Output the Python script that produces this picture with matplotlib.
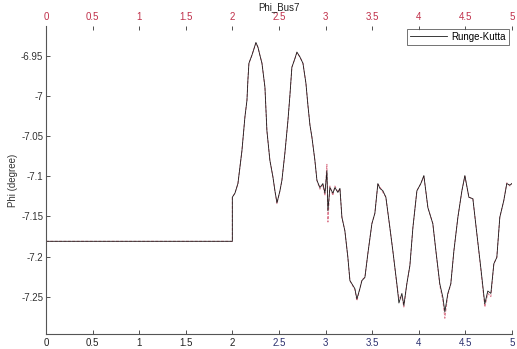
import matplotlib
matplotlib.use("Agg")
import matplotlib.pyplot as plt

# Phase angle at bus 7 (degrees) versus time (s)
t = [0.0, 2.0, 2.0, 2.028, 2.06, 2.103, 2.135, 2.157, 2.167, 2.178, 2.21, 2.232,
     2.253, 2.275, 2.296, 2.318, 2.35, 2.371, 2.403, 2.436, 2.457, 2.479, 2.511,
     2.532, 2.564, 2.597, 2.618, 2.639, 2.672, 2.693, 2.725, 2.758, 2.79, 2.811,
     2.833, 2.854, 2.886, 2.908, 2.94, 2.972, 2.994, 3.015, 3.026, 3.047, 3.079,
     3.101, 3.133, 3.155, 3.176, 3.208, 3.24, 3.262, 3.294, 3.315, 3.337, 3.369,
     3.391, 3.423, 3.455, 3.498, 3.53, 3.562, 3.584, 3.616, 3.648, 3.691, 3.723,
     3.766, 3.788, 3.82, 3.841, 3.873, 3.906, 3.938, 3.981, 4.023, 4.056, 4.099,
     4.152, 4.185, 4.227, 4.26, 4.281, 4.313, 4.345, 4.378, 4.421, 4.464, 4.496,
     4.539, 4.582, 4.624, 4.667, 4.71, 4.742, 4.775, 4.807, 4.839, 4.871, 4.914,
     4.946, 4.979, 5.0]

phi_rk = [-7.181, -7.181, -7.126, -7.121, -7.109, -7.068, -7.026, -7.005, -6.98,
          -6.959, -6.949, -6.941, -6.933, -6.939, -6.949, -6.959, -6.989, -7.043,
          -7.08, -7.101, -7.118, -7.133, -7.118, -7.105, -7.071, -7.03, -6.999,
          -6.964, -6.953, -6.945, -6.951, -6.959, -6.984, -7.011, -7.036, -7.051,
          -7.08, -7.105, -7.114, -7.109, -7.121, -7.093, -7.143, -7.114, -7.121,
          -7.114, -7.12, -7.115, -7.151, -7.168, -7.201, -7.23, -7.236, -7.24,
          -7.253, -7.24, -7.23, -7.226, -7.196, -7.159, -7.146, -7.109, -7.115,
          -7.118, -7.126, -7.164, -7.193, -7.234, -7.258, -7.246, -7.261, -7.234,
          -7.211, -7.164, -7.118, -7.109, -7.099, -7.139, -7.159, -7.193, -7.234,
          -7.251, -7.269, -7.246, -7.234, -7.193, -7.151, -7.118, -7.099, -7.126,
          -7.128, -7.171, -7.214, -7.259, -7.243, -7.246, -7.209, -7.201, -7.151,
          -7.13, -7.109, -7.111, -7.109]

phi_ref = [-7.181, -7.181, -7.126, -7.121, -7.109, -7.068, -7.026, -7.005, -6.98,
           -6.959, -6.949, -6.941, -6.934, -6.939, -6.949, -6.959, -6.989, -7.043,
           -7.08, -7.101, -7.118, -7.134, -7.118, -7.105, -7.071, -7.03, -6.999,
           -6.964, -6.953, -6.946, -6.951, -6.959, -6.984, -7.011, -7.036, -7.051,
           -7.08, -7.105, -7.116, -7.111, -7.124, -7.085, -7.157, -7.112, -7.124,
           -7.112, -7.12, -7.115, -7.151, -7.168, -7.201, -7.23, -7.237, -7.241,
           -7.255, -7.24, -7.229, -7.226, -7.196, -7.159, -7.146, -7.11, -7.113,
           -7.12, -7.126, -7.164, -7.193, -7.236, -7.252, -7.25, -7.263, -7.234,
           -7.211, -7.164, -7.118, -7.109, -7.1, -7.139, -7.159, -7.193, -7.236,
           -7.255, -7.277, -7.248, -7.234, -7.193, -7.151, -7.118, -7.1, -7.126,
           -7.128, -7.171, -7.216, -7.263, -7.246, -7.25, -7.209, -7.201, -7.151,
           -7.13, -7.108, -7.112, -7.109]

xticks = [0, 0.5, 1, 1.5, 2, 2.5, 3, 3.5, 4, 4.5, 5]
xticklabels = ["0", "0.5", "1", "1.5", "2", "2.5", "3", "3.5", "4", "4.5", "5"]
yticks = [-7.25, -7.2, -7.15, -7.1, -7.05, -7.0, -6.95]
yticklabels = ["-7.25", "-7.2", "-7.15", "-7.1", "-7.05", "-7", "-6.95"]

plt.rcParams["font.family"] = ["Liberation Sans", "DejaVu Sans"]

fig = plt.figure(figsize=(5.17, 3.49), dpi=100)
ax = fig.add_axes([0.089, 0.043, 0.901, 0.8825])

ax.plot(t, phi_ref, color="#d0506a", lw=0.7, ls=(0, (3, 1.5)), alpha=0.75)
ax.plot(t, phi_rk, color="#1a1a1a", lw=0.6, label="Runge-Kutta")

ax.set_xlim(0, 5)
ax.set_ylim(-7.2966, -6.9125)

ax.set_xticks(xticks)
ax.set_xticklabels(xticklabels)
ax.set_yticks(yticks)
ax.set_yticklabels(yticklabels)
ax.tick_params(axis="both", direction="in", length=3, width=0.6,
               labelsize=7, colors="#333333", pad=2)
ax.tick_params(axis="x", top=True, labeltop=True, pad=3)
for lbl, val in zip(ax.get_xticklabels(), xticks):
    lbl.set_color("#222222" if val <= 2 else "#2a2f6e")
# top labels are drawn in red
for tk in ax.xaxis.get_major_ticks():
    tk.label2.set_color("#c0304a")

for s in ("top", "right"):
    ax.spines[s].set_visible(False)
for s in ("left", "bottom"):
    ax.spines[s].set_color("#555555")
    ax.spines[s].set_linewidth(0.8)

ax.set_title("Phi_Bus7", fontsize=7, y=1.052, pad=0, color="#222222")
ax.set_ylabel("Phi (degree)", fontsize=7, labelpad=2, color="#333333")

leg = ax.legend(loc="upper right", fontsize=7, frameon=True, fancybox=False,
                borderaxespad=0.3, handlelength=3.8, borderpad=0.3,
                handletextpad=0.5)
leg.get_frame().set_edgecolor("#333333")
leg.get_frame().set_linewidth(0.6)

fig.savefig("out.png", dpi=100)
